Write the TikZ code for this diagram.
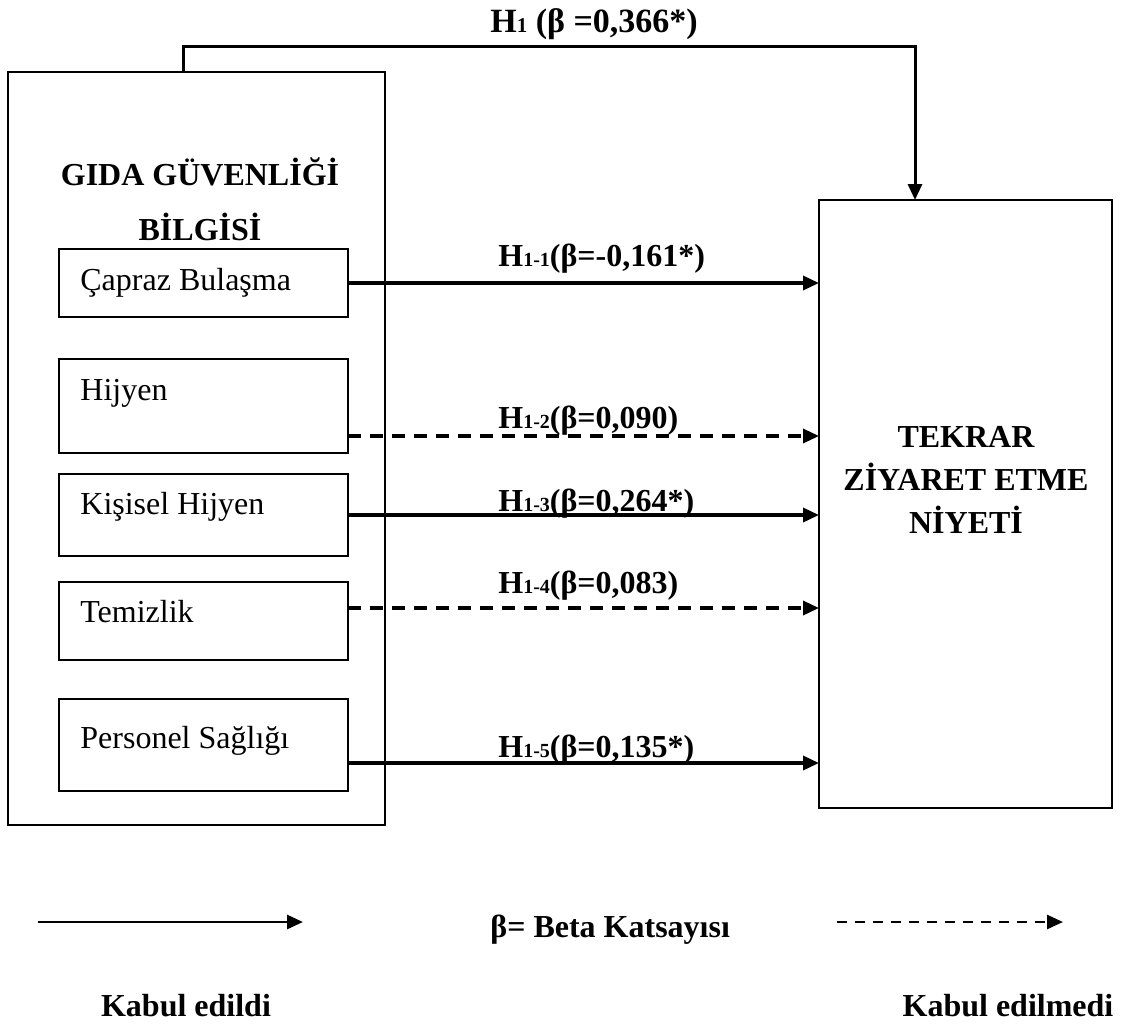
\documentclass[tikz,border=0pt]{standalone}
\usepackage{fontspec}
\setmainfont{Liberation Serif}
\usetikzlibrary{arrows.meta}
\newcommand{\hsub}[1]{{\fontsize{10}{12}\selectfont #1}}
\tikzset{
  bigbox/.style={draw, line width=1pt, inner sep=0pt, outer sep=0pt},
  itembox/.style={draw, line width=0.8pt, inner sep=0pt, outer sep=0pt, minimum width=144.5pt},
  itemtext/.style={anchor=base west, inner sep=0pt, font=\fontsize{16}{19}\selectfont},
  boldtext/.style={anchor=base, inner sep=0pt, font=\fontsize{16}{19}\selectfont\bfseries},
  kabul/.style={line width=1.7pt, -{Triangle[length=8pt,width=7pt]}},
  ret/.style={kabul, dash pattern=on 6.5pt off 4.5pt}
}
\begin{document}
\begin{tikzpicture}[x=0.5pt,y=-0.5pt]
\useasboundingbox (0,0) rectangle (1121,1030);
% outer boxes
\node[bigbox, minimum width=188.5pt, minimum height=376.5pt] (bilgi) at (196.5,448.5) {};
\node[bigbox, minimum width=146.5pt, minimum height=304pt] (niyet) at (965.5,504) {};
\node[boldtext] (gida) at (200,185) {GIDA GÜVENLİĞİ};
\node[boldtext] (bilgisi) at (200,240) {BİLGİSİ};
\node[boldtext] (tekrar) at (966,447) {TEKRAR};
\node[boldtext] (ziyaret) at (966,490) {ZİYARET ETME};
\node[boldtext] (niyeti) at (966,533) {NİYETİ};

% sub-dimensions
\node[itembox, minimum height=34pt] (capraz) at (203.5,283) {};
\node[itembox, minimum height=47pt] (hijyen) at (203.5,406) {};
\node[itembox, minimum height=41pt] (kisisel) at (203.5,515) {};
\node[itembox, minimum height=39pt] (temizlik) at (203.5,621) {};
\node[itembox, minimum height=46pt] (personel) at (203.5,745) {};
\node[itemtext] at (80,290) {Çapraz Bulaşma};
\node[itemtext] at (80,400) {Hijyen};
\node[itemtext] at (80,514) {Kişisel Hijyen};
\node[itemtext] at (80,622) {Temizlik};
\node[itemtext] at (80,748) {Personel Sağlığı};

% hypotheses
\draw[kabul, line width=1.5pt] ([xshift=-6.75pt]bilgi.north) -- ++(0,-26) -| ([xshift=-25.25pt]niyet.north);
\node[boldtext, anchor=base west, font=\fontsize{17}{20}\selectfont\bfseries] (h1) at (490,32) {H{\fontsize{10.5}{12}\selectfont 1} (β =0,366*)};
\draw[kabul] (capraz.east) -- (capraz.east -| niyet.west);
\draw[ret] ([yshift=-15pt]hijyen.east) -- ([yshift=-15pt]hijyen.east -| niyet.west);
\draw[kabul] (kisisel.east) -- (kisisel.east -| niyet.west);
\draw[ret] ([yshift=6.5pt]temizlik.east) -- ([yshift=6.5pt]temizlik.east -| niyet.west);
\draw[kabul] ([yshift=-9pt]personel.east) -- ([yshift=-9pt]personel.east -| niyet.west);
\node[boldtext, anchor=base west] (h11) at (498,266) {H\hsub{1-1}(β=-0,161*)};
\node[boldtext, anchor=base west] (h12) at (498,428) {H\hsub{1-2}(β=0,090)};
\node[boldtext, anchor=base west] (h13) at (498,511) {H\hsub{1-3}(β=0,264*)};
\node[boldtext, anchor=base west] (h14) at (498,593) {H\hsub{1-4}(β=0,083)};
\node[boldtext, anchor=base west] (h15) at (498,757) {H\hsub{1-5}(β=0,135*)};

% legend
\coordinate (ks) at (38,922);
\coordinate (ke) at (303,922);
\coordinate (rs) at (837,922);
\coordinate (re) at (1063,922);
\draw[kabul, line width=1.4pt] (ks) -- (ke);
\draw[ret, line width=1.3pt, dash pattern=on 5pt off 4pt] (rs) -- (re);
\node[boldtext, anchor=base west] (beta) at (490,937) {β= Beta Katsayısı};
\node[boldtext] (edildi) at (186,1016) {Kabul edildi};
\node[boldtext] (edilmedi) at (1008,1016) {Kabul edilmedi};
\end{tikzpicture}
\end{document}
